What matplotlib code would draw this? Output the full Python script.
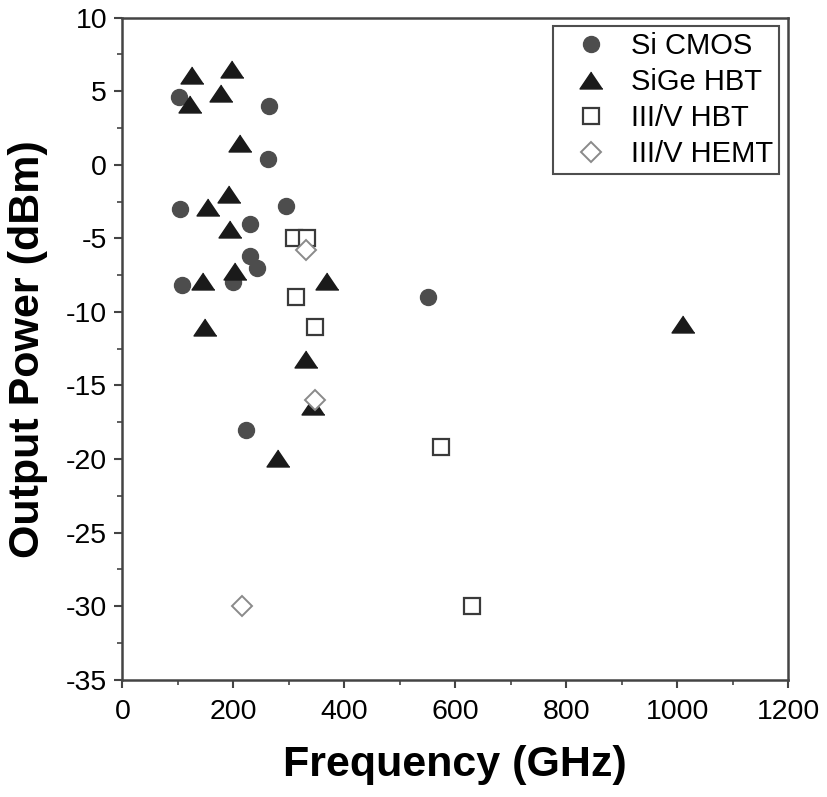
import matplotlib
matplotlib.use("Agg")
import matplotlib.pyplot as plt
from matplotlib.ticker import MultipleLocator

# data (GHz, dBm)
cmos_f = [102, 265, 262, 104, 295, 230, 230, 242, 108, 199, 550, 222]
cmos_p = [4.6, 4.0, 0.4, -3.0, -2.8, -4.0, -6.2, -7.0, -8.2, -8.0, -9.0, -18.0]

sige_f = [125, 197, 178, 122, 212, 193, 155, 194, 203, 145, 368, 149, 331, 343, 280, 1010]
sige_p = [6.1, 6.5, 4.9, 4.1, 1.5, -2.0, -2.9, -4.4, -7.2, -7.9, -7.9, -11.0, -13.2, -16.4, -19.9, -10.8]

hbt_f = [309, 332, 313, 347, 574, 631]
hbt_p = [-5.0, -5.0, -9.0, -11.0, -19.2, -30.0]

hemt_f = [331, 347, 215]
hemt_p = [-5.8, -16.0, -30.0]

plt.rcParams['font.family'] = ['Liberation Sans', 'DejaVu Sans']
plt.rcParams['axes.unicode_minus'] = False

fig = plt.figure(figsize=(8.27, 7.97), dpi=100)
ax = fig.add_axes([0.148, 0.147, 0.805, 0.831])

tri = [(0, 0.74), (-1, -0.74), (1, -0.74)]

ax.plot(cmos_f, cmos_p, 'o', ms=11.5, color='#4d4d4d', mec='#4d4d4d', label='Si CMOS')
ax.plot(sige_f, sige_p, marker=tri, ls='none', ms=16.5, color='#1a1a1a', label='SiGe HBT')
ax.plot(hbt_f, hbt_p, 's', ms=11, mfc='white', mec='#3a3a3a', mew=1.6, label='III/V HBT')
ax.plot(hemt_f, hemt_p, 'D', ms=10.5, mfc='white', mec='#8a8a8a', mew=1.4, label='III/V HEMT')

ax.set_xlim(0, 1200)
ax.set_ylim(-35, 10)
ax.xaxis.set_major_locator(MultipleLocator(200))
ax.xaxis.set_minor_locator(MultipleLocator(100))
ax.yaxis.set_major_locator(MultipleLocator(5))
ax.yaxis.set_minor_locator(MultipleLocator(2.5))
ax.tick_params(which='major', length=6, width=1.5, labelsize=20.5, direction='out',
               color='#444444')
ax.tick_params(axis='x', which='major', pad=8)
ax.tick_params(axis='y', which='major', pad=5)
ax.tick_params(which='minor', length=3.5, width=1.2, direction='out', color='#444444')
for s in ax.spines.values():
    s.set_linewidth(1.8)
    s.set_color('#444444')

ax.set_xlabel('Frequency (GHz)', fontsize=31, fontweight='bold', labelpad=14)
ax.set_ylabel('Output Power (dBm)', fontsize=31, fontweight='bold', labelpad=13)

leg = ax.legend(loc='upper right', fontsize=21, frameon=True, fancybox=False,
                edgecolor='#222222', borderpad=0.2, handletextpad=0.29,
                labelspacing=0.27, borderaxespad=0.3, handlelength=2.2)
leg.get_frame().set_linewidth(1.5)

fig.savefig('out.png', dpi=100)
